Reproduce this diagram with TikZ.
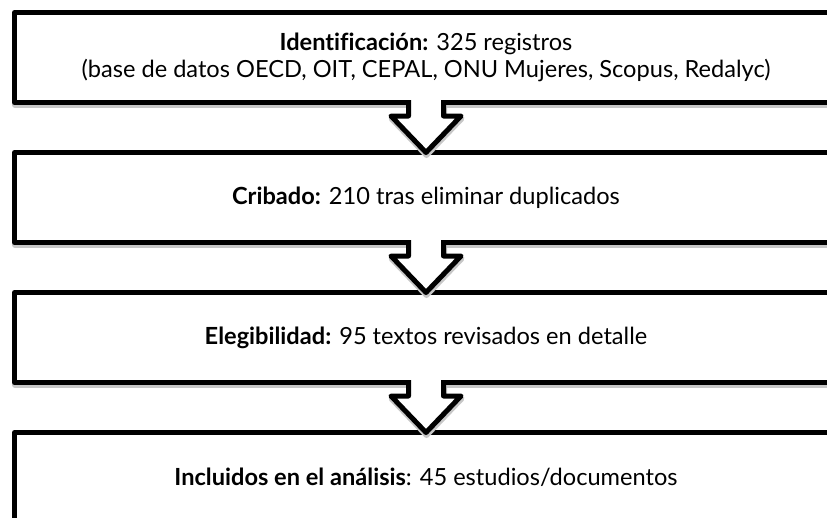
\documentclass[tikz,border=0pt]{standalone}
\usepackage{fontspec}
\setmainfont[Ligatures=NoCommon]{Lato}
\usepackage{tikz}
\usetikzlibrary{calc}

\tikzset{
  caja/.style={draw=black, fill=white, line width=5pt, line join=round,
    minimum width=823pt, minimum height=90pt, inner sep=0pt, outer sep=0pt,
    align=center, font=\fontsize{23.6}{27}\selectfont,
    preaction={draw=black!22, line width=6pt,
      transform canvas={xshift=0.5pt,yshift=-2.5pt}}},
  flecha/.style={draw=black, line width=5pt, line join=round},
  sombra/.style={draw=black!22, line width=6pt, line join=round,
    transform canvas={xshift=0.5pt,yshift=-2.5pt}}
}

\begin{document}
\begin{tikzpicture}[x=1pt,y=-1pt]
\useasboundingbox (0,0) rectangle (827,517);

\node[caja] (ident) at (426,57.5) {\textbf{Identificación:} 325 registros\\(base de datos OECD, OIT, CEPAL, ONU Mujeres, Scopus, Redalyc)};
\node[caja] (crib) at (426,197.5) {\textbf{Cribado:} 210 tras eliminar duplicados};
\node[caja] (eleg) at (426,337.5) {\textbf{Elegibilidad:} 95 textos revisados en detalle};
\node[caja] (incl) at (426,477.5) {\textbf{Incluidos en el análisis}: 45 estudios/documentos};

% flechas entre cajas
\foreach \a/\b in {ident/crib,crib/eleg,eleg/incl}{
  \draw[sombra] ($(\a.south)+(-17.5,2.5)$) -- ($(\a.south)+(-17.5,13.5)$)
    -- ($(\a.south)+(-35,13.5)$) -- (\b.north) -- ($(\a.south)+(35,13.5)$)
    -- ($(\a.south)+(17.5,13.5)$) -- ($(\a.south)+(17.5,2.5)$);
  \fill[white] ($(\a.south)+(-17.5,-2.5)$) -- ($(\a.south)+(-17.5,13.5)$)
    -- ($(\a.south)+(-35,13.5)$) -- (\b.north) -- ($(\a.south)+(35,13.5)$)
    -- ($(\a.south)+(17.5,13.5)$) -- ($(\a.south)+(17.5,-2.5)$) -- cycle;
  \draw[flecha] ($(\a.south)+(-17.5,-2.5)$) -- ($(\a.south)+(-17.5,13.5)$)
    -- ($(\a.south)+(-35,13.5)$) -- (\b.north) -- ($(\a.south)+(35,13.5)$)
    -- ($(\a.south)+(17.5,13.5)$) -- ($(\a.south)+(17.5,-2.5)$);
}

\end{tikzpicture}
\end{document}
